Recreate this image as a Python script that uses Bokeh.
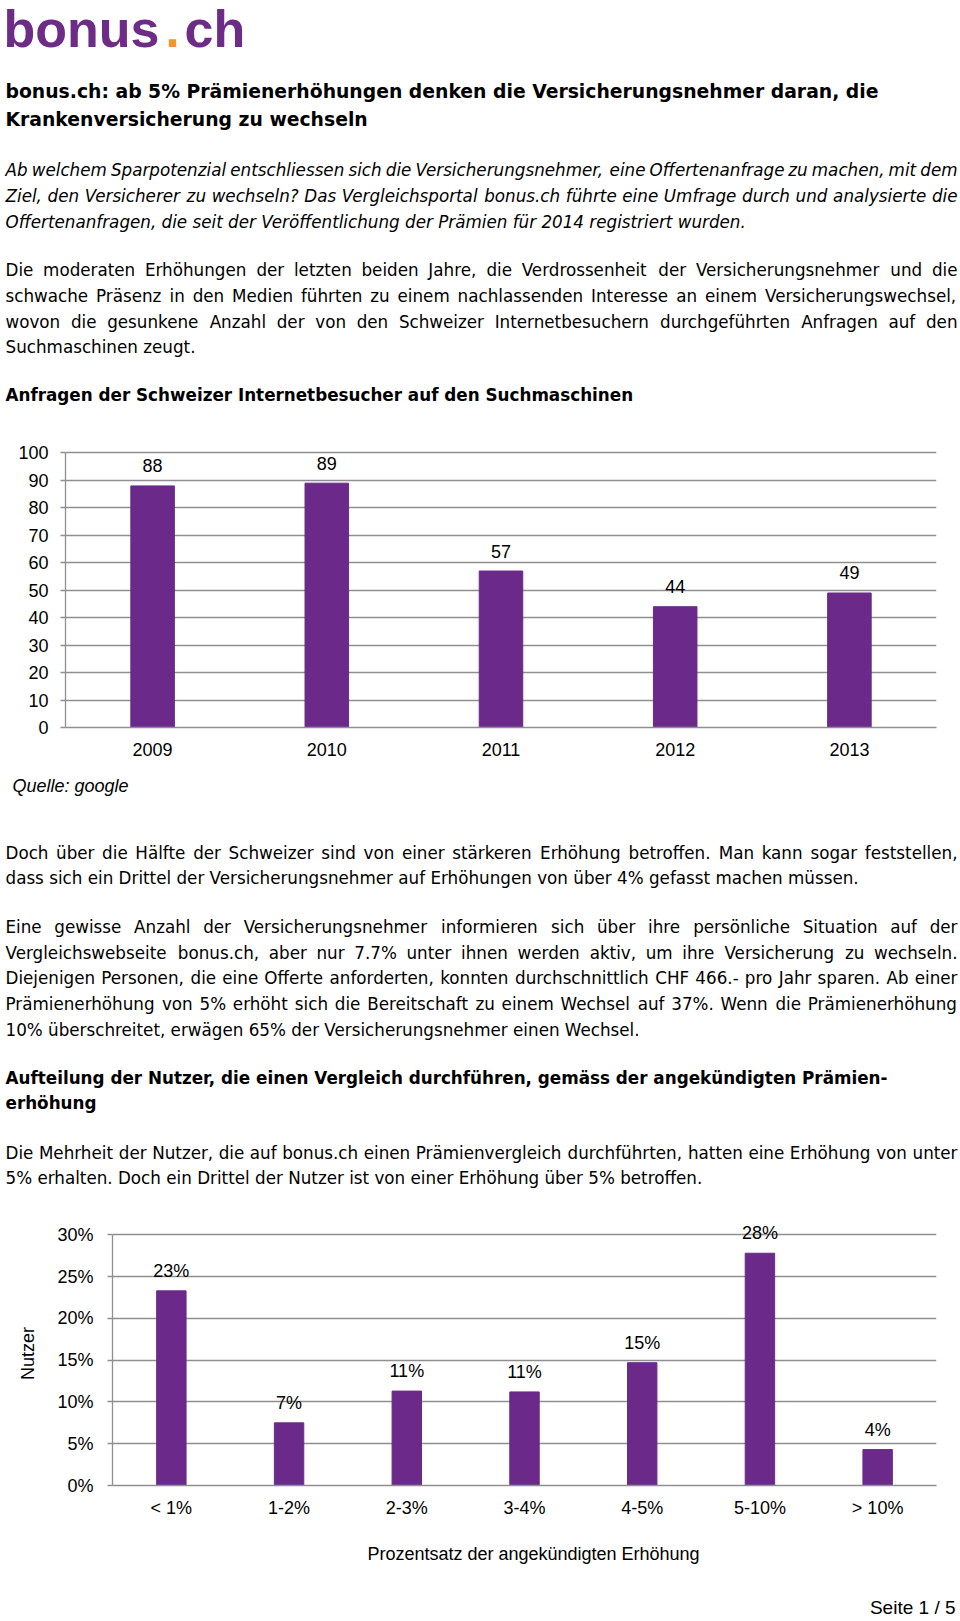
from bokeh.plotting import figure
from bokeh.models import ColumnDataSource, Range1d, FactorRange, FixedTicker, PrintfTickFormatter
from bokeh.layouts import column
from bokeh.embed import file_html
from bokeh.resources import INLINE
from bokeh.core.properties import value

# ---------------- data ----------------
years = ["2009", "2010", "2011", "2012", "2013"]
searches = [88, 89, 57, 44, 49]
search_labels = ["88", "89", "57", "44", "49"]

increase_bins = ["< 1%", "1-2%", "2-3%", "3-4%", "4-5%", "5-10%", "> 10%"]
users_pct = [23.3, 7.5, 11.3, 11.2, 14.7, 27.8, 4.3]
users_labels = ["23%", "7%", "11%", "11%", "15%", "28%", "4%"]

title_lines = [
    "bonus.ch: ab 5% Prämienerhöhungen denken die Versicherungsnehmer daran, die",
    "Krankenversicherung zu wechseln",
]
intro_lines = [
    "Ab welchem Sparpotenzial entschliessen sich die Versicherungsnehmer, eine Offertenanfrage zu machen, mit dem",
    "Ziel, den Versicherer zu wechseln? Das Vergleichsportal bonus.ch führte eine Umfrage durch und analysierte die",
    "Offertenanfragen, die seit der Veröffentlichung der Prämien für 2014 registriert wurden.",
]
para1_lines = [
    "Die moderaten Erhöhungen der letzten beiden Jahre, die Verdrossenheit der Versicherungsnehmer und die",
    "schwache Präsenz in den Medien führten zu einem nachlassenden Interesse an einem Versicherungswechsel,",
    "wovon die gesunkene Anzahl der von den Schweizer Internetbesuchern durchgeführten Anfragen auf den",
    "Suchmaschinen zeugt.",
]
heading1 = "Anfragen der Schweizer Internetbesucher auf den Suchmaschinen"
source_note = "Quelle: google"
para2_lines = [
    "Doch über die Hälfte der Schweizer sind von einer stärkeren Erhöhung betroffen. Man kann sogar feststellen,",
    "dass sich ein Drittel der Versicherungsnehmer auf Erhöhungen von über 4% gefasst machen müssen.",
]
para3_lines = [
    "Eine gewisse Anzahl der Versicherungsnehmer informieren sich über ihre persönliche Situation auf der",
    "Vergleichswebseite bonus.ch, aber nur 7.7% unter ihnen werden aktiv, um ihre Versicherung zu wechseln.",
    "Diejenigen Personen, die eine Offerte anforderten, konnten durchschnittlich CHF 466.- pro Jahr sparen. Ab einer",
    "Prämienerhöhung von 5% erhöht sich die Bereitschaft zu einem Wechsel auf 37%. Wenn die Prämienerhöhung",
    "10% überschreitet, erwägen 65% der Versicherungsnehmer einen Wechsel.",
]
heading2_lines = [
    "Aufteilung der Nutzer, die einen Vergleich durchführen, gemäss der angekündigten Prämien-",
    "erhöhung",
]
para4_lines = [
    "Die Mehrheit der Nutzer, die auf bonus.ch einen Prämienvergleich durchführten, hatten eine Erhöhung von unter",
    "5% erhalten. Doch ein Drittel der Nutzer ist von einer Erhöhung über 5% betroffen.",
]
footer_text = "Seite 1 / 5"
chart2_xlabel = "Prozentsatz der angekündigten Erhöhung"
chart2_ylabel = "Nutzer"

# ---------------- styles ----------------
BODY_FONT = "DejaVu Sans"
CHART_FONT = "Liberation Sans"
LOGO_FONT = "Liberation Sans"
PURPLE = "#6B2A8A"
LOGO_PURPLE = "#6D2C85"
LOGO_ORANGE = "#F39433"
GRID = "#8F8F8F"
BODY_SIZE = 16.75
HEAD_SIZE = 16.8
TITLE_SIZE = 18.8
LEFT = 5
RIGHT = 957
PAGE_W = 960
# offset (in em) from the alphabetic baseline to the "middle" anchor, per font
MID = {BODY_FONT: 0.346, CHART_FONT: 0.347}

# DejaVu Sans advance widths (per 1000 em)
W = {" ": 318, "a": 613, "b": 635, "c": 550, "d": 635, "e": 615, "f": 352, "g": 635, "h": 634,
     "i": 278, "j": 278, "k": 579, "l": 278, "m": 974, "n": 634, "o": 612, "p": 635, "q": 635,
     "r": 411, "s": 521, "t": 392, "u": 634, "v": 592, "w": 818, "x": 592, "y": 592, "z": 525,
     "A": 684, "B": 686, "C": 698, "D": 770, "E": 632, "F": 575, "G": 775, "H": 752, "I": 295,
     "J": 295, "K": 656, "L": 557, "M": 863, "N": 748, "O": 787, "P": 603, "Q": 787, "R": 695,
     "S": 635, "T": 611, "U": 732, "V": 684, "W": 989, "X": 685, "Y": 611, "Z": 685,
     "ä": 613, "ö": 612, "ü": 634, "Ä": 684, "Ö": 787, "Ü": 732,
     ".": 318, ",": 318, ":": 337, "-": 361, "%": 950, "?": 531, "(": 390, ")": 390, "/": 337}
for d in "0123456789":
    W[d] = 636


def word_width(w, size):
    return sum(W.get(c, 600) for c in w) * size / 1000.0


def build_lines(lines, baselines, justify_flags, size):
    xs, ys, ts = [], [], []
    for line, y, just in zip(lines, baselines, justify_flags):
        if not just:
            xs.append(LEFT); ys.append(y); ts.append(line)
            continue
        words = line.split(" ")
        widths = [word_width(w, size) for w in words]
        gap = (RIGHT - LEFT - sum(widths)) / (len(words) - 1)
        gap = max(gap, 0.2 * size)
        x = LEFT
        for w, wd in zip(words, widths):
            xs.append(x); ys.append(y); ts.append(w)
            x += wd + gap
    return xs, ys, ts


def text_fig(y_top, y_bottom):
    p = figure(width=PAGE_W, height=y_bottom - y_top, x_range=Range1d(0, PAGE_W),
               y_range=Range1d(y_bottom, y_top), x_axis_type=None, y_axis_type=None,
               toolbar_location=None, output_backend="svg", min_border=0,
               outline_line_color=None, frame_align=False)
    return p


def add_text(p, xs, ys, ts, size, style="normal", font=BODY_FONT, color="#000000",
             align="left", baseline_given=True):
    if baseline_given:
        ys = [y - MID[font] * size for y in ys]
    src = ColumnDataSource(dict(x=xs, y=ys, t=ts))
    p.text(x="x", y="y", text="t", source=src, text_font=value(font),
           text_font_size=f"{size}px", text_font_style=style, text_color=color,
           text_align=align, text_baseline="middle")


# ---------------- top text block ----------------
top = text_fig(0, 415)
add_text(top, [3], [47], ["bonus"], 52, "bold", LOGO_FONT, LOGO_PURPLE)
add_text(top, [172], [47], ["."], 52, "bold", LOGO_FONT, LOGO_ORANGE, align="center")
add_text(top, [184], [47], ["ch"], 52, "bold", LOGO_FONT, LOGO_PURPLE)
add_text(top, [LEFT, LEFT], [98, 126], title_lines, TITLE_SIZE, "bold")
xs, ys, ts = build_lines(intro_lines, [175, 201, 227], [True, True, False], BODY_SIZE)
add_text(top, xs, ys, ts, BODY_SIZE, "italic")
xs, ys, ts = build_lines(para1_lines, [275, 301, 327, 352], [True, True, True, False], BODY_SIZE)
add_text(top, xs, ys, ts, BODY_SIZE)
add_text(top, [LEFT], [400], [heading1], HEAD_SIZE, "bold")


def style_chart(p, ticks, bounds):
    p.xgrid.visible = False
    p.ygrid.ticker = FixedTicker(ticks=ticks)
    p.ygrid.grid_line_color = GRID
    p.ygrid.grid_line_width = 1.3
    p.yaxis.ticker = FixedTicker(ticks=ticks)
    p.yaxis.bounds = bounds
    for ax in (p.xaxis[0], p.yaxis[0]):
        ax.axis_line_color = GRID
        ax.axis_line_width = 1.3
        ax.major_tick_line_color = GRID
        ax.major_tick_line_width = 1.3
        ax.minor_tick_line_color = None
        ax.major_label_text_font = CHART_FONT
        ax.major_label_text_font_size = "18px"
        ax.major_label_text_color = "#000000"
        ax.axis_label_text_font = CHART_FONT
        ax.axis_label_text_font_size = "18px"
        ax.axis_label_text_font_style = "normal"
        ax.axis_label_text_color = "#000000"
    p.xaxis.major_tick_out = 0
    p.xaxis.major_tick_in = 0
    p.yaxis.major_tick_out = 5
    p.yaxis.major_tick_in = 0


# ---------------- chart 1 ----------------
c1 = figure(width=PAGE_W, height=355, x_range=FactorRange(factors=years), y_range=Range1d(0, 102),
            toolbar_location=None, output_backend="svg", min_border_left=65, min_border_right=24,
            min_border_top=32, min_border_bottom=43, outline_line_color=None, frame_align=False)
src1 = ColumnDataSource(dict(x=years, top=searches, lab=search_labels))
c1.vbar(x="x", top="top", width=0.25, source=src1, fill_color=PURPLE, line_color=PURPLE)
c1.text(x="x", y="top", text="lab", source=src1, text_font=value(CHART_FONT), text_font_size="18px",
        text_color="#000000", text_align="center", text_baseline="middle", y_offset=-20)
style_chart(c1, list(range(0, 101, 10)), (0, 100))
c1.yaxis.major_label_standoff = 12
c1.xaxis.major_label_standoff = 15

# ---------------- middle text block ----------------
mid = text_fig(770, 1195)
add_text(mid, [12], [792], [source_note], 18, "italic", CHART_FONT)
xs, ys, ts = build_lines(para2_lines, [858, 883], [True, False], BODY_SIZE)
add_text(mid, xs, ys, ts, BODY_SIZE)
xs, ys, ts = build_lines(para3_lines, [932, 958, 983, 1009, 1035], [True, True, True, True, False], BODY_SIZE)
add_text(mid, xs, ys, ts, BODY_SIZE)
add_text(mid, [LEFT, LEFT], [1083, 1108], heading2_lines, HEAD_SIZE, "bold")
xs, ys, ts = build_lines(para4_lines, [1158, 1183], [True, False], BODY_SIZE)
add_text(mid, xs, ys, ts, BODY_SIZE)

# ---------------- chart 2 ----------------
c2 = figure(width=PAGE_W, height=335, x_range=FactorRange(factors=increase_bins), y_range=Range1d(0, 31.6),
            toolbar_location=None, output_backend="svg", min_border_left=112, min_border_right=24,
            min_border_top=26, min_border_bottom=45, outline_line_color=None, frame_align=False)
src2 = ColumnDataSource(dict(x=increase_bins, top=users_pct, lab=users_labels))
c2.vbar(x="x", top="top", width=0.25, source=src2, fill_color=PURPLE, line_color=PURPLE)
c2.text(x="x", y="top", text="lab", source=src2, text_font=value(CHART_FONT), text_font_size="18px",
        text_color="#000000", text_align="center", text_baseline="middle", y_offset=-20)
style_chart(c2, list(range(0, 31, 5)), (0, 30))
c2.yaxis.formatter = PrintfTickFormatter(format="%d%%")
c2.yaxis.major_label_standoff = 14
c2.xaxis.major_label_standoff = 12
c2.yaxis.axis_label = chart2_ylabel
c2.yaxis.axis_label_standoff = 16

# ---------------- footer (x-axis title of chart 2 and page number) ----------------
foot = text_fig(1530, 1621)
add_text(foot, [533], [1553], [chart2_xlabel], 18, "normal", CHART_FONT, align="center",
         baseline_given=False)
add_text(foot, [955], [1607], [footer_text], 19, "normal", CHART_FONT, align="right",
         baseline_given=False)

page = column(top, c1, mid, c2, foot, spacing=0)
open("out.html", "w").write(file_html(page, INLINE))
